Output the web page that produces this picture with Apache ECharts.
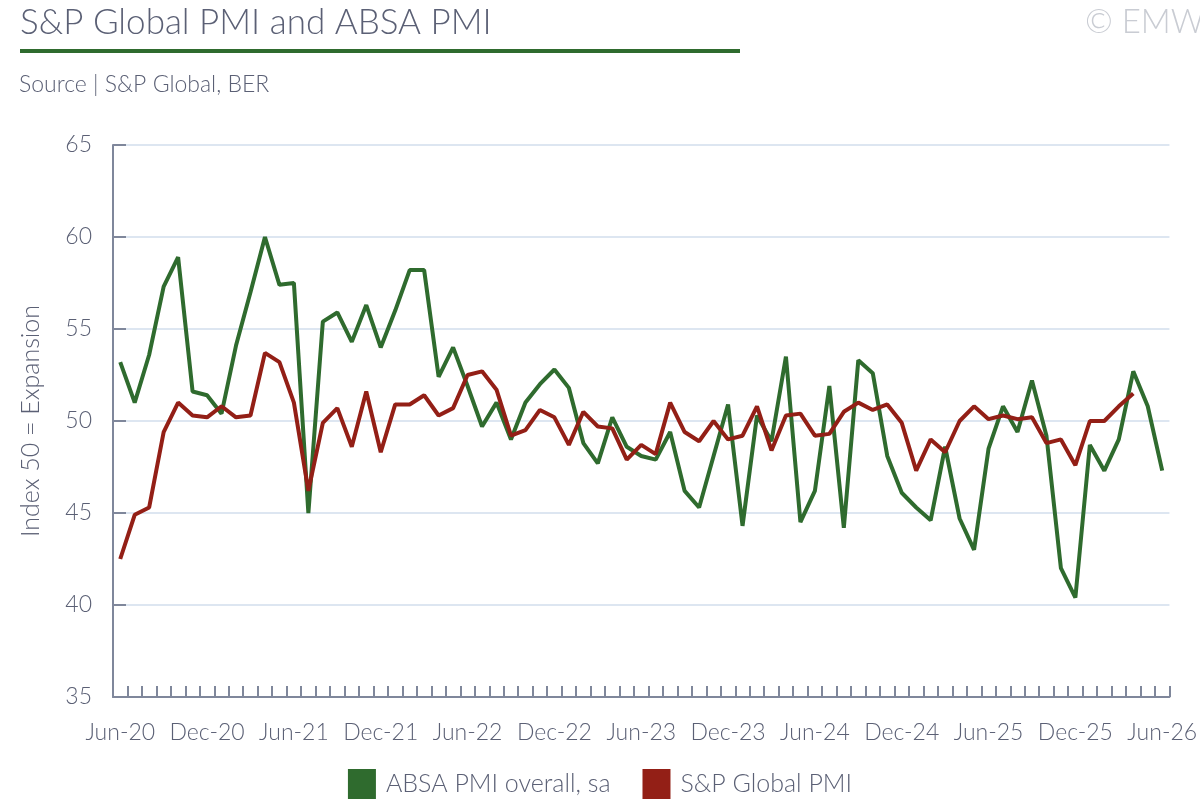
<!DOCTYPE html>
<html>
<head>
<meta charset="utf-8">
<script src="https://cdn.jsdelivr.net/npm/echarts@6/dist/echarts.min.js"></script>
<style>
html,body{margin:0;padding:0;background:#fff;}
#c{width:1200px;height:800px;}
</style>
</head>
<body>
<div id="c"></div>
<script>
var categories = [
 "Jun-20","Jul-20","Aug-20","Sep-20","Oct-20","Nov-20","Dec-20","Jan-21","Feb-21","Mar-21","Apr-21","May-21",
 "Jun-21","Jul-21","Aug-21","Sep-21","Oct-21","Nov-21","Dec-21","Jan-22","Feb-22","Mar-22","Apr-22","May-22",
 "Jun-22","Jul-22","Aug-22","Sep-22","Oct-22","Nov-22","Dec-22","Jan-23","Feb-23","Mar-23","Apr-23","May-23",
 "Jun-23","Jul-23","Aug-23","Sep-23","Oct-23","Nov-23","Dec-23","Jan-24","Feb-24","Mar-24","Apr-24","May-24",
 "Jun-24","Jul-24","Aug-24","Sep-24","Oct-24","Nov-24","Dec-24","Jan-25","Feb-25","Mar-25","Apr-25","May-25",
 "Jun-25","Jul-25","Aug-25","Sep-25","Oct-25","Nov-25","Dec-25","Jan-26","Feb-26","Mar-26","Apr-26","May-26",
 "Jun-26"
];
var absaPmi = [
 53.2,51.0,53.6,57.3,58.9,51.6,51.4,50.4,54.1,57.0,60.0,57.4,
 57.5,45.0,55.4,55.9,54.3,56.3,54.0,56.0,58.2,58.2,52.4,54.0,
 51.9,49.7,51.0,49.0,51.0,52.0,52.8,51.8,48.8,47.7,50.2,48.6,
 48.1,47.9,49.4,46.2,45.3,48.1,50.9,44.3,50.3,48.9,53.5,44.5,
 46.2,51.9,44.2,53.3,52.6,48.1,46.1,45.3,44.6,48.6,44.7,43.0,
 48.5,50.8,49.4,52.2,49.2,42.0,40.4,48.7,47.3,49.0,52.7,50.8,
 47.3
];
var spPmi = [
 42.5,44.9,45.3,49.4,51.0,50.3,50.2,50.8,50.2,50.3,53.7,53.2,
 51.0,46.2,49.9,50.7,48.6,51.6,48.3,50.9,50.9,51.4,50.3,50.7,
 52.5,52.7,51.7,49.2,49.5,50.6,50.2,48.7,50.5,49.7,49.6,47.9,
 48.7,48.2,51.0,49.4,48.9,50.0,49.0,49.2,50.8,48.4,50.3,50.4,
 49.2,49.3,50.5,51.0,50.6,50.9,49.9,47.3,49.0,48.3,50.0,50.8,
 50.1,50.3,50.1,50.2,48.8,49.0,47.6,50.0,50.0,50.8,51.5,null,
 null
];
var yTicks = [35,40,45,50,55,60,65];

var textColor = '#5b6075';
var axisColor = '#7f879b';
var font = 'Lato, "Open Sans", sans-serif';

var chart = echarts.init(document.getElementById('c'));
chart.setOption({
  animation: false,
  backgroundColor: '#ffffff',
  textStyle: { fontFamily: font },
  title: [
    { text: 'S&P Global PMI and ABSA PMI', left: 15, top: 0,
      textStyle: { fontSize: 35, fontWeight: 300, color: textColor, fontFamily: font } },
    { text: 'Source | S&P Global, BER', left: 14, top: 68,
      textStyle: { fontSize: 23, fontWeight: 300, color: textColor, fontFamily: font } },
    { text: '\u00A9 EMW', left: 1080, top: 1,
      textStyle: { fontSize: 33, fontWeight: 300, color: '#c9ccd3', fontFamily: font } }
  ],
  graphic: [
    { type: 'rect', shape: { x: 20, y: 49, width: 720, height: 4 }, style: { fill: '#2f6b2e' } }
  ],
  grid: { left: 113, right: 21, top: 145, bottom: 103, containLabel: false },
  legend: {
    bottom: -4, left: 'center', itemWidth: 28, itemHeight: 30, itemGap: 32,
    icon: 'rect',
    textStyle: { fontSize: 25, color: textColor, fontWeight: 300, fontFamily: font, padding: [0, 0, 0, 5] },
    data: ['ABSA PMI overall, sa', 'S&P Global PMI']
  },
  xAxis: {
    type: 'category',
    data: categories,
    boundaryGap: true,
    axisLine: { show: true, lineStyle: { color: axisColor, width: 2 } },
    axisTick: { show: true, inside: true, length: 11, interval: 0, lineStyle: { color: axisColor, width: 2 } },
    axisLabel: { interval: 5, fontSize: 23, color: textColor, margin: 24, fontWeight: 300, fontFamily: font },
    splitLine: { show: false }
  },
  yAxis: {
    type: 'value',
    min: 35, max: 65, interval: 5,
    name: 'Index 50 = Expansion',
    nameLocation: 'middle',
    nameGap: 70,
    nameTextStyle: { fontSize: 25, color: textColor, fontWeight: 300, fontFamily: font },
    axisLine: { show: true, lineStyle: { color: axisColor, width: 2 } },
    axisTick: { show: true, inside: true, length: 13, lineStyle: { color: axisColor, width: 2 } },
    axisLabel: { fontSize: 23, color: textColor, margin: 21, fontWeight: 300, fontFamily: font,
      formatter: function (v) { return yTicks.indexOf(v) >= 0 ? String(v) : ''; } },
    splitLine: { show: true, lineStyle: { color: '#dde6f1', width: 2 } }
  },
  series: [
    { name: 'ABSA PMI overall, sa', type: 'line', data: absaPmi, showSymbol: false, symbol: 'none',
      itemStyle: { color: '#2f6b2e' }, lineStyle: { color: '#2f6b2e', width: 4 }, z: 2 },
    { name: 'S&P Global PMI', type: 'line', data: spPmi, showSymbol: false, symbol: 'none',
      itemStyle: { color: '#931f16' }, lineStyle: { color: '#931f16', width: 4 }, z: 3 }
  ]
});
</script>
</body>
</html>
